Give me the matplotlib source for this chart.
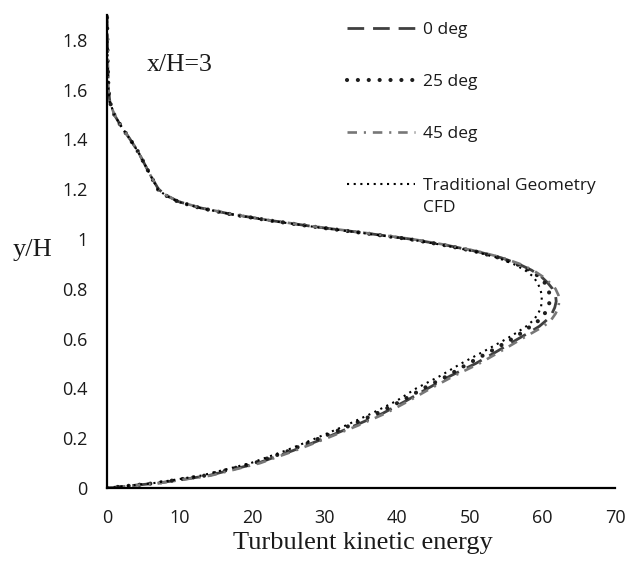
import matplotlib
matplotlib.use("Agg")
import matplotlib.pyplot as plt

# ---- data ----
y_h = [0, 0.01, 0.02, 0.05, 0.1, 0.15, 0.2, 0.25, 0.3, 0.35, 0.4, 0.45, 0.5, 0.55,
       0.6, 0.625, 0.65, 0.675, 0.7, 0.725, 0.75, 0.775, 0.8, 0.825, 0.85, 0.875,
       0.9, 0.925, 0.95, 0.975, 1.0, 1.025, 1.05, 1.075, 1.1, 1.125, 1.15, 1.175,
       1.2, 1.25, 1.3, 1.35, 1.4, 1.45, 1.5, 1.55, 1.6, 1.7, 1.8, 1.9]

tke_0deg = [0, 3.5, 7.1, 14.0, 20.8, 25.6, 30.0, 34.1, 38.0, 41.2, 44.2, 47.3, 50.8, 53.8,
            56.7, 58.2, 59.6, 60.6, 61.3, 61.7, 61.9, 61.8, 61.4, 60.7, 59.8, 58.5,
            56.7, 54.3, 51.0, 46.8, 41.8, 35.3, 28.5, 22.4, 17.1, 12.9, 9.9, 8.2,
            7.1, 6.1, 5.2, 4.3, 3.2, 2.0, 1.0, 0.4, 0.2, 0.1, 0.05, 0]

tke_25deg = [0, 3.4, 6.8, 13.5, 20.3, 25.1, 29.3, 33.4, 37.2, 40.6, 43.6, 46.9, 49.8, 52.9,
             55.9, 57.2, 58.4, 59.6, 60.3, 60.8, 61.0, 61.0, 60.8, 60.3, 59.5, 58.2,
             56.4, 54.0, 50.8, 46.6, 41.6, 35.1, 28.4, 22.3, 17.0, 12.8, 9.8, 8.1,
             7.0, 6.1, 5.2, 4.3, 3.2, 2.0, 1.0, 0.4, 0.2, 0.1, 0.05, 0]

tke_45deg = [0, 3.6, 7.3, 14.3, 21.1, 25.9, 30.3, 34.5, 38.4, 41.6, 44.6, 47.8, 51.3, 54.3,
             57.2, 58.7, 60.2, 61.2, 61.8, 62.2, 62.3, 62.2, 61.8, 61.0, 60.0, 58.7,
             56.9, 54.5, 51.2, 47.0, 42.0, 35.5, 28.7, 22.5, 17.2, 13.0, 9.9, 8.2,
             7.1, 6.1, 5.2, 4.3, 3.2, 2.0, 1.0, 0.4, 0.2, 0.1, 0.05, 0]

tke_cfd = [0, 3.2, 6.5, 13.0, 19.8, 24.6, 28.8, 32.8, 36.5, 39.9, 42.6, 45.9, 48.8, 52.0,
           55.1, 56.5, 57.8, 58.8, 59.4, 59.8, 59.9, 59.9, 59.7, 59.3, 58.7, 57.6,
           56.0, 53.8, 50.6, 46.5, 41.5, 35.0, 28.3, 22.2, 17.0, 12.8, 9.8, 8.1,
           7.0, 6.1, 5.2, 4.3, 3.2, 2.0, 1.0, 0.4, 0.2, 0.1, 0.05, 0]

labels = ["0 deg", "25 deg", "45 deg", "Traditional Geometry"]
x_ticks = [0, 10, 20, 30, 40, 50, 60, 70]
y_ticks = [0, 0.2, 0.4, 0.6, 0.8, 1.0, 1.2, 1.4, 1.6, 1.8]
y_tick_labels = ["0", "0.2", "0.4", "0.6", "0.8", "1", "1.2", "1.4", "1.6", "1.8"]

# ---- figure ----
W, H = 638, 568
fig = plt.figure(figsize=(W / 100, H / 100), dpi=100)
ax = fig.add_axes([107 / W, (H - 488) / H, (615 - 107) / W, (488 - 15) / H])

ax.plot(tke_0deg, y_h, color="#404040", lw=2.0, linestyle=(0, (6.0, 3.2)), label=labels[0])
ax.plot(tke_25deg, y_h, color="#1e1e1e", lw=3.0, linestyle=(0, (0.01, 2.6)),
        dash_capstyle="round", label=labels[1])
ax.plot(tke_45deg, y_h, color="#777777", lw=1.9, linestyle=(0, (3.6, 2.6, 0.8, 2.6)),
        label=labels[2])
ax.plot(tke_cfd, y_h, color="black", lw=1.5, linestyle=(0, (1, 2.2)), label=labels[3])

ax.set_xlim(0, 70)
ax.set_ylim(0, 1.9)
ax.set_xticks(x_ticks)
ax.set_xticklabels([str(v) for v in x_ticks])
ax.set_yticks(y_ticks)
ax.set_yticklabels(y_tick_labels)
for s in ["top", "right"]:
    ax.spines[s].set_visible(False)
for s in ["left", "bottom"]:
    ax.spines[s].set_linewidth(1.6)
    ax.spines[s].set_color("black")
ax.tick_params(axis="both", length=0, labelsize=13, colors="#1a1a1a")
ax.tick_params(axis="y", pad=14)
ax.tick_params(axis="x", pad=15)
for t in ax.get_xticklabels() + ax.get_yticklabels():
    t.set_fontfamily("Open Sans")

fig.text(363 / W, 1 - 543 / H, "Turbulent kinetic energy", family="Liberation Serif",
         fontsize=19, ha="center", va="center", color="#1a1a1a")
fig.text(13 / W, 1 - 250 / H, "y/H", family="Liberation Serif",
         fontsize=19, ha="left", va="center", color="#1a1a1a")
fig.text(147 / W, 1 - 65 / H, "x/H=3", family="Liberation Serif",
         fontsize=18.5, ha="left", va="center", color="#1a1a1a")

leg = fig.legend(loc="upper left", bbox_to_anchor=(347 / W, 1 - 22 / H),
                 frameon=False, borderpad=0, borderaxespad=0,
                 handlelength=3.9, handletextpad=0.45, labelspacing=2.07,
                 prop={"family": "Open Sans", "size": 12.5})
for t in leg.get_texts():
    t.set_color("#1a1a1a")
fig.text(423 / W, 1 - 208 / H, "CFD", family="Open Sans", fontsize=12.5,
         ha="left", va="center", color="#1a1a1a")

fig.savefig("out.png", dpi=100)
